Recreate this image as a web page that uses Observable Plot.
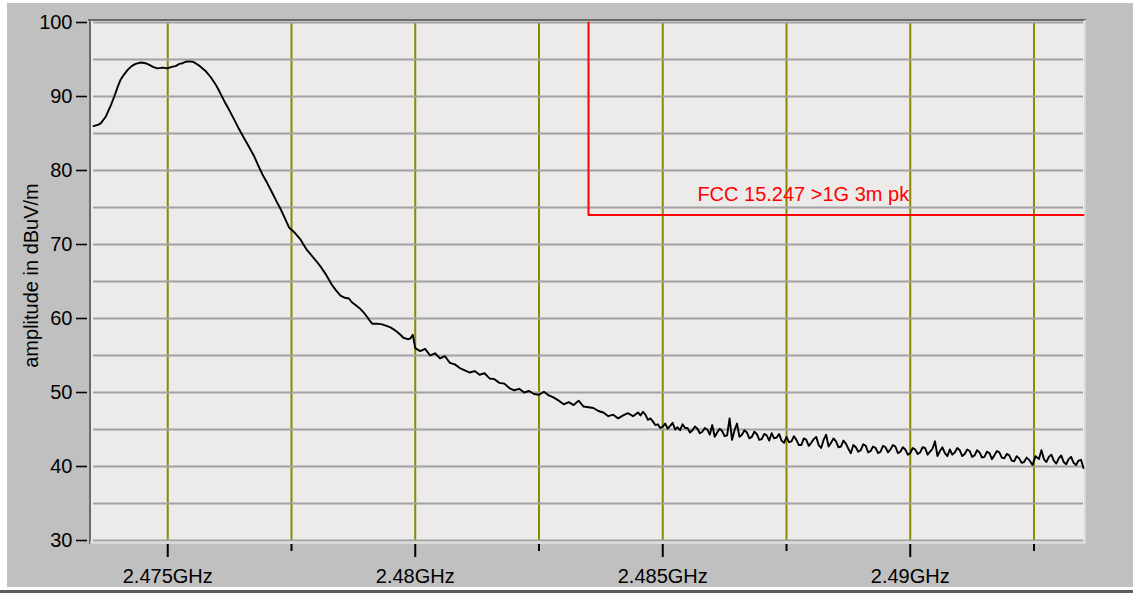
<!DOCTYPE html>
<html>
<head>
<meta charset="utf-8">
<script src="https://cdn.jsdelivr.net/npm/d3@7"></script>
<script src="https://cdn.jsdelivr.net/npm/@observablehq/plot@0.6"></script>
<style>
  html, body { margin: 0; padding: 0; background: #ffffff; width: 1133px; height: 593px; overflow: hidden; }
  #chart { position: absolute; left: 7px; top: 3px; }
  #bottomline { position: absolute; left: 0; top: 590px; width: 1133px; height: 3px; background: #5c5c5c; }
</style>
</head>
<body>
<div id="chart"></div>
<div id="bottomline"></div>
<script>
// ---- data ----
const freqGHz = [
  2.47350, 2.47360, 2.47365, 2.47375, 2.47385, 2.47392, 2.47400, 2.47405, 2.47412, 2.47419,
  2.47427, 2.47435, 2.47446, 2.47455, 2.47462, 2.47470, 2.47479, 2.47490, 2.47499, 2.47508,
  2.47516, 2.47523, 2.47530, 2.47537, 2.47543, 2.47550, 2.47556, 2.47565, 2.47577, 2.47587,
  2.47597, 2.47605, 2.47614, 2.47624, 2.47634, 2.47644, 2.47654, 2.47664, 2.47674, 2.47682,
  2.47691, 2.47701, 2.47711, 2.47720, 2.47728, 2.47737, 2.47745, 2.47755, 2.47768, 2.47775,
  2.47782, 2.47792, 2.47802, 2.47810, 2.47819, 2.47826, 2.47832, 2.47840, 2.47849, 2.47858,
  2.47866, 2.47872, 2.47880, 2.47889, 2.47896, 2.47903, 2.47908, 2.47913, 2.47923, 2.47933,
  2.47942, 2.47950, 2.47957, 2.47963, 2.47970, 2.47976, 2.47985,
  2.47990, 2.47995, 2.48000, 2.48010, 2.48020, 2.48030, 2.48040, 2.48050, 2.48060, 2.48070,
  2.48080, 2.48090, 2.48100, 2.48110, 2.48120, 2.48130, 2.48140, 2.48150, 2.48160, 2.48170,
  2.48180, 2.48190, 2.48200, 2.48210, 2.48220, 2.48230, 2.48240, 2.48250, 2.48260, 2.48270,
  2.48280, 2.48290, 2.48300, 2.48310, 2.48320, 2.48330, 2.48340, 2.48350, 2.48360, 2.48370,
  2.48380, 2.48390, 2.48400, 2.48410, 2.48420, 2.48430, 2.48440,
  2.48450, 2.48455, 2.48460, 2.48465, 2.48470, 2.48475, 2.48480, 2.48485, 2.48490, 2.48495,
  2.48500, 2.48505, 2.48510, 2.48515, 2.48520, 2.48525, 2.48530, 2.48535, 2.48540, 2.48545,
  2.48550, 2.48555, 2.48560, 2.48565, 2.48570, 2.48575, 2.48580, 2.48585, 2.48590, 2.48595,
  2.48600, 2.48605, 2.48610, 2.48615, 2.48620, 2.48625, 2.48630, 2.48635, 2.48640, 2.48645,
  2.48650, 2.48655, 2.48660, 2.48665, 2.48670, 2.48675, 2.48680, 2.48685, 2.48690, 2.48695,
  2.48700, 2.48705, 2.48710, 2.48715, 2.48720, 2.48725, 2.48730, 2.48735, 2.48740, 2.48745,
  2.48750, 2.48755, 2.48760, 2.48765, 2.48770, 2.48775, 2.48780, 2.48785, 2.48790, 2.48795,
  2.48800, 2.48805, 2.48810, 2.48815, 2.48820, 2.48825, 2.48830, 2.48835, 2.48840, 2.48845,
  2.48850, 2.48855, 2.48860, 2.48865, 2.48870, 2.48875, 2.48880, 2.48885, 2.48890, 2.48895,
  2.48900, 2.48905, 2.48910, 2.48915, 2.48920, 2.48925, 2.48930, 2.48935, 2.48940, 2.48945,
  2.48950, 2.48955, 2.48960, 2.48965, 2.48970, 2.48975, 2.48980, 2.48985, 2.48990, 2.48995,
  2.49000, 2.49005, 2.49010, 2.49015, 2.49020, 2.49025, 2.49030, 2.49035, 2.49040, 2.49045,
  2.49050, 2.49055, 2.49060, 2.49065, 2.49070, 2.49075, 2.49080, 2.49085, 2.49090, 2.49095,
  2.49100, 2.49105, 2.49110, 2.49115, 2.49120, 2.49125, 2.49130, 2.49135, 2.49140, 2.49145,
  2.49150, 2.49155, 2.49160, 2.49165, 2.49170, 2.49175, 2.49180, 2.49185, 2.49190, 2.49195,
  2.49200, 2.49205, 2.49210, 2.49215, 2.49220, 2.49225, 2.49230, 2.49235, 2.49240, 2.49247,
  2.49253, 2.49260, 2.49265, 2.49270, 2.49275, 2.49280, 2.49285, 2.49290, 2.49295, 2.49300,
  2.49305, 2.49310, 2.49315, 2.49320, 2.49325, 2.49330, 2.49335, 2.49340, 2.49345, 2.49350
];
const amplitudeDbuvM = [
  86.0, 86.2, 86.4, 87.3, 88.8, 90.0, 91.5, 92.3, 93.0, 93.6,
  94.1, 94.4, 94.6, 94.5, 94.3, 94.0, 93.8, 93.9, 93.8, 94.0,
  94.1, 94.4, 94.5, 94.7, 94.75, 94.7, 94.5, 94.1, 93.4, 92.6,
  91.6, 90.6, 89.4, 88.2, 86.9, 85.6, 84.4, 83.2, 82.0, 80.8,
  79.5, 78.3, 77.0, 75.8, 74.8, 73.5, 72.3, 71.7, 70.7, 69.9,
  69.2, 68.4, 67.6, 66.9, 66.0, 65.2, 64.5, 63.8, 63.1, 62.8,
  62.7, 62.2, 61.8, 61.3, 60.8, 60.2, 59.7, 59.3, 59.3, 59.2,
  59.0, 58.8, 58.5, 58.2, 57.8, 57.4, 57.2,
  57.3, 57.8, 56.0, 55.6, 55.9, 55.0, 55.3, 54.6, 54.9, 54.0,
  53.8, 53.3, 53.0, 52.7, 52.9, 52.4, 52.6, 51.9, 51.8, 51.3,
  51.2, 50.6, 50.3, 50.5, 50.0, 50.2, 49.8, 49.7, 50.1, 49.6,
  49.3, 48.9, 48.4, 48.7, 48.3, 48.9, 48.1, 48.0, 47.9, 47.5,
  47.3, 46.8, 47.0, 46.5, 46.9, 47.2, 46.8,
  47.3, 46.9, 47.4, 47.0, 46.3, 46.5, 46.1, 45.6, 45.7, 45.2,
  45.4, 45.8, 45.1, 45.5, 45.9, 45.0, 45.3, 44.9, 45.7, 45.2,
  45.2, 44.6, 44.9, 45.4, 45.1, 44.5, 44.7, 45.2, 45.0, 44.3,
  45.6, 44.0, 44.6, 45.1, 44.8, 44.1, 44.2, 46.5, 43.6, 44.9,
  45.8, 44.0, 44.3, 44.9, 44.6, 43.8, 44.0, 44.7, 44.4, 43.6,
  43.7, 44.4, 44.2, 43.5, 44.5, 43.8, 43.9, 44.4, 43.5, 43.2,
  44.0, 43.3, 43.4, 44.1, 43.6, 42.9, 42.9, 43.8, 43.6, 42.8,
  43.2, 43.7, 44.0, 42.9, 42.5, 43.6, 44.3, 42.7, 43.2, 43.8,
  43.4, 42.6, 42.7, 43.5, 43.1, 42.4, 41.8, 42.9, 42.6, 42.0,
  42.2, 43.0, 42.8, 41.9, 42.1, 42.7, 42.5, 41.8, 42.0, 42.8,
  42.6, 41.9, 42.3, 42.9, 42.7, 41.8, 42.0, 42.6, 42.3, 41.6,
  41.8, 42.5, 42.3, 41.7, 41.9, 42.6, 42.5, 41.6, 42.0, 42.4,
  43.4, 41.4, 42.1, 42.6, 41.8, 41.4, 42.3, 41.6, 41.9, 42.5,
  42.2, 41.4, 41.7, 42.3, 42.1, 41.3, 41.5, 42.2, 41.9, 41.2,
  41.3, 42.0, 41.8, 41.0, 41.5, 42.1, 41.9, 41.2, 41.1, 41.7,
  41.5, 40.8, 40.7, 41.4, 41.1, 40.5, 40.6, 41.2, 40.9, 40.2,
  41.4, 41.0, 42.2, 41.0, 40.6, 41.3, 41.6, 40.8, 40.4, 41.1,
  41.5, 40.6, 40.3, 41.0, 41.3, 40.5, 40.2, 40.8, 40.9, 39.8
];

// limit line (FCC 15.247 >1G 3m pk)
const limitFreqGHz = [2.4835, 2.4835, 2.4935];
const limitDbuvM = [100, 74, 74];
const limitLabel = "FCC 15.247 >1G 3m pk";
const limitLabelFreqGHz = 2.4857;

// axes
const xDomain = [2.4735, 2.4935];
const yDomain = [30, 100];
const xMajorTicks = [2.475, 2.48, 2.485, 2.49];
const xMinorTicks = [2.4775, 2.4825, 2.4875, 2.4925];
const xGrid = [2.475, 2.4775, 2.48, 2.4825, 2.485, 2.4875, 2.49, 2.4925];
const yTicks = [30, 40, 50, 60, 70, 80, 90, 100];
const yGrid = [30, 35, 40, 45, 50, 55, 60, 65, 70, 75, 80, 85, 90, 95, 100];
const yLabel = "amplitude in dBuV/m";

// ---- chart ----
const trace = freqGHz.map((f, i) => ({f, v: amplitudeDbuvM[i]}));
const limit = limitFreqGHz.map((f, i) => ({f, v: limitDbuvM[i]}));

const chart = Plot.plot({
  width: 1126,
  height: 584,
  marginLeft: 86,
  marginRight: 50,
  marginTop: 19,
  marginBottom: 47,
  x: {domain: xDomain},
  y: {domain: yDomain},
  style: {
    fontFamily: "'Liberation Sans', Arial, sans-serif",
    fontSize: "20px",
    background: "#c0c0c0",
    color: "#000",
    overflow: "visible"
  },
  marks: [
    Plot.frame({fill: "#ecebea", stroke: null, insetLeft: -3, insetRight: -2, insetTop: -2, insetBottom: -3}),
    Plot.ruleX(xGrid, {stroke: "#8a8a00", strokeWidth: 2}),
    Plot.ruleY(yGrid, {stroke: "#a2a2a2", strokeWidth: 2}),
    // sunken frame borders
    Plot.ruleY([100], {stroke: "#6a6a6a", strokeWidth: 2, dy: -2.5, insetLeft: -5, insetRight: -3}),
    Plot.ruleX([2.4735], {stroke: "#6a6a6a", strokeWidth: 2, dx: -3.5, insetTop: -3, insetBottom: -4}),
    Plot.ruleX([2.4935], {stroke: "#d8d8d8", strokeWidth: 2, dx: 1.5, insetTop: -2, insetBottom: -3}),
    Plot.ruleY([30], {stroke: "#dcdcdc", strokeWidth: 2, dy: 2, insetLeft: -3, insetRight: -3}),
    // limit
    Plot.line(limit, {x: "f", y: "v", stroke: "#ff0000", strokeWidth: 2}),
    Plot.text([{f: limitLabelFreqGHz, v: 74, t: limitLabel}], {
      x: "f", y: "v", text: "t", textAnchor: "start", lineAnchor: "bottom",
      dy: -14, fill: "#ff0000", fontSize: 20
    }),
    // trace
    Plot.line(trace, {x: "f", y: "v", stroke: "#000", strokeWidth: 1.9}),
    // axes
    Plot.axisY({ticks: yTicks, anchor: "left", tickSize: 11, tickPadding: 4, dx: -6,
      strokeWidth: 1.6, fontSize: 20, label: null}),
    Plot.axisX({ticks: xMajorTicks, anchor: "bottom", tickSize: 13, tickPadding: 11, dy: 4,
      strokeWidth: 2, fontSize: 20, label: null, tickFormat: d => d + "GHz"}),
    Plot.axisX({ticks: xMinorTicks, anchor: "bottom", tickSize: 7, tickPadding: 0, dy: 4,
      strokeWidth: 2, label: null, tickFormat: () => ""}),
    Plot.text([yLabel], {text: d => d, frameAnchor: "left", textAnchor: "middle", dx: -62, dy: -6,
      rotate: -90, fontSize: 20, fill: "#000"})
  ]
});
document.getElementById("chart").appendChild(chart);
</script>
</body>
</html>
